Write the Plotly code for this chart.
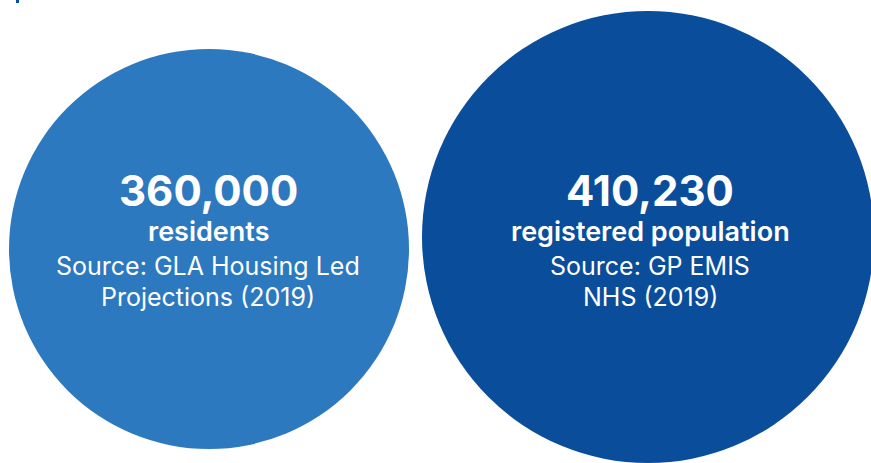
import plotly.graph_objects as go

# --- data ---
labels = ["residents", "registered population"]
values = [360000, 410230]
value_text = ["360,000", "410,230"]
sources = [["Source: GLA Housing Led", "Projections (2019)"],
           ["Source: GP EMIS", "NHS (2019)"]]
colors = ["#2C79BF", "#0A4D9A"]

# --- layout (pixel-space positioning) ---
W, H = 871, 463
cx = [209, 648]
cy = [249, 237]
diam = [400, 452]
text_x = [208, 650]

fig = go.Figure()
fig.add_trace(go.Scatter(
    x=cx, y=cy, mode="markers", cliponaxis=False,
    marker=dict(size=diam, sizemode="diameter", color=colors, opacity=1,
                line=dict(width=0)),
    hoverinfo="skip", showlegend=False,
))

FONT = "Inter"
for i in range(2):
    fig.add_annotation(x=text_x[i], y=190, text=value_text[i],
                       showarrow=False, xanchor="center", yanchor="middle",
                       font=dict(family=FONT, size=42, color="white", weight=700))
    fig.add_annotation(x=text_x[i], y=231, text=labels[i],
                       showarrow=False, xanchor="center", yanchor="middle",
                       font=dict(family=FONT, size=27, color="white", weight=600))
    for j, line in enumerate(sources[i]):
        fig.add_annotation(x=text_x[i], y=266 + 31 * j, text=line,
                           showarrow=False, xanchor="center", yanchor="middle",
                           font=dict(family=FONT, size=25, color="white"))

fig.add_shape(type="rect", x0=16, x1=19, y0=0, y1=3, fillcolor="#0A4D9A",
              line=dict(width=0), layer="above")

fig.update_layout(
    width=W, height=H, margin=dict(l=0, r=0, t=0, b=0),
    paper_bgcolor="white", plot_bgcolor="white",
    xaxis=dict(range=[0, W], visible=False, fixedrange=True),
    yaxis=dict(range=[H, 0], visible=False, fixedrange=True),
    showlegend=False,
)
fig.write_html("out.html", config={"displayModeBar": False},
               post_script="document.body.style.margin='0';document.body.style.overflow='hidden';")
